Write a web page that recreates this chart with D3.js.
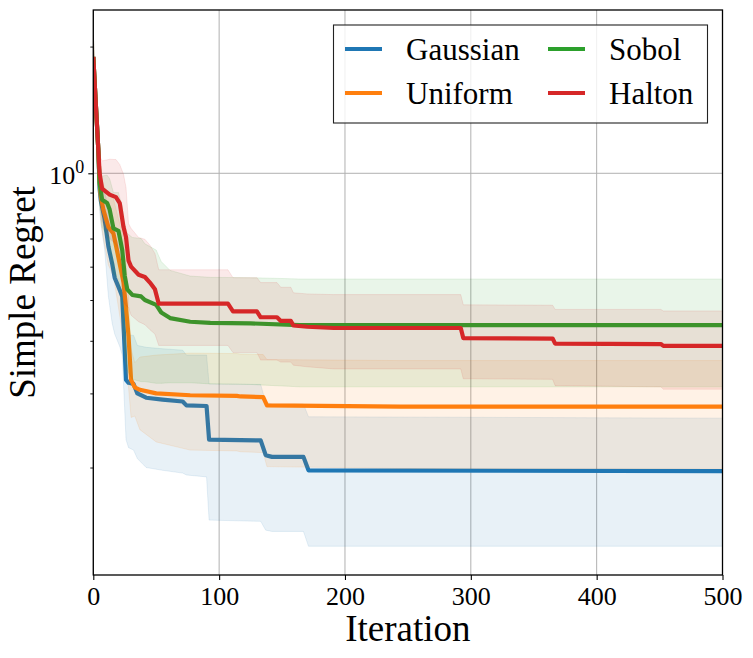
<!DOCTYPE html>
<html>
<head>
<meta charset="utf-8">
<script src="https://cdn.jsdelivr.net/npm/d3@7"></script>
<style>
  html, body { margin: 0; padding: 0; background: #fff; }
  svg text { font-family: "Liberation Serif", "DejaVu Serif", serif; fill: #000; }
</style>
</head>
<body>
<svg id="chart" width="753" height="658"></svg>
<script>
// ---------------- data ----------------
const seriesNames = ["Gaussian", "Uniform", "Sobol", "Halton"];
const seriesColors = ["#1f77b4", "#ff7f0e", "#2ca02c", "#d62728"];

const gIter = [0,1,2,3,4,5,6,9,12,15,17,21,23,26,28,32,35,42,55,71,74,90,92,133,137,142,167,171,500];
const gMean = [1.89,1.66,1.46,1.29,1.135,0.92,0.86,0.78,0.67,0.61,0.565,0.528,0.51,0.323,0.318,0.316,0.300,0.293,0.290,0.287,0.281,0.280,0.233,0.232,0.214,0.212,0.212,0.197,0.196];
const gStd  = [0.24,0.2,0.17,0.14,0.12,0.1,0.1,0.12,0.16,0.17,0.15,0.14,0.14,0.09,0.095,0.096,0.09,0.093,0.093,0.093,0.089,0.09,0.083,0.083,0.072,0.071,0.071,0.067,0.066];

const uIter = [0,1,2,3,4,5,6,8,12,16,20,24,26,28,30,33,37,50,77,114,117,135,138,244,500];
const uMean = [1.89,1.66,1.46,1.29,1.135,0.95,0.88,0.82,0.745,0.72,0.63,0.55,0.48,0.41,0.323,0.31,0.306,0.300,0.297,0.296,0.295,0.294,0.281,0.279,0.279];
const uStd  = [0.24,0.2,0.17,0.14,0.12,0.1,0.11,0.12,0.14,0.15,0.15,0.15,0.13,0.1,0.06,0.045,0.06,0.07,0.077,0.077,0.077,0.077,0.08,0.08,0.08];

const sIter = [0,1,2,3,4,5,7,11,13,16,20,21,23,25,27,31,38,41,50,54,61,77,93,125,164,500];
const sMean = [1.89,1.66,1.46,1.29,1.135,0.95,0.865,0.85,0.82,0.74,0.73,0.705,0.657,0.57,0.53,0.514,0.51,0.50,0.487,0.467,0.453,0.444,0.441,0.44,0.436,0.436];
const sStd  = [0.24,0.2,0.17,0.14,0.12,0.1,0.12,0.14,0.15,0.16,0.17,0.17,0.18,0.19,0.19,0.19,0.19,0.18,0.17,0.15,0.135,0.126,0.125,0.125,0.125,0.125];

const hIter = [0,1,2,3,4,5,7,13,18,21,24,26,28,30,36,41,45,49,52,107,111,130,133,146,149,157,159,170,191,292,294,365,367,451,453,500];
const hMean = [1.89,1.66,1.46,1.29,1.135,1.0,0.92,0.89,0.878,0.85,0.745,0.705,0.62,0.60,0.574,0.567,0.55,0.53,0.49,0.49,0.47,0.47,0.455,0.455,0.446,0.446,0.435,0.432,0.429,0.429,0.406,0.405,0.394,0.393,0.389,0.389];
const hStd  = [0.24,0.2,0.17,0.14,0.12,0.1,0.15,0.19,0.2,0.2,0.25,0.22,0.14,0.14,0.13,0.13,0.125,0.115,0.10,0.10,0.095,0.095,0.095,0.095,0.09,0.09,0.085,0.085,0.086,0.086,0.081,0.081,0.081,0.082,0.082,0.082];

const xTicks = [0, 100, 200, 300, 400, 500];
const yMajorTicks = [1];
const yMinorTicks = [0.2, 0.3, 0.4, 0.5, 0.6, 0.7, 0.8, 0.9, 2];
const xDomain = [0, 500];
const yDomain = [0.1111, 2.443];

// ---------------- layout ----------------
const FONT = "'Liberation Serif', 'DejaVu Serif', serif";
const svg = d3.select("#chart");
const L = 93.3, T = 10, R = 722.5, B = 575;

const x = d3.scaleLinear().domain(xDomain).range([L, R]);
const y = d3.scaleLog().domain(yDomain).range([B, T]);

const series = [
  { it: gIter, m: gMean, s: gStd },
  { it: uIter, m: uMean, s: uStd },
  { it: sIter, m: sMean, s: sStd },
  { it: hIter, m: hMean, s: hStd }
].map((d, k) => ({
  name: seriesNames[k], color: seriesColors[k],
  pts: d.it.map((v, i) => ({ i: v, m: d.m[i], lo: d.m[i] - d.s[i], hi: d.m[i] + d.s[i] }))
}));

svg.append("defs").append("clipPath").attr("id", "clip")
  .append("rect").attr("x", L).attr("y", T).attr("width", R - L).attr("height", B - T);

// grid
const grid = svg.append("g");
grid.selectAll("line.gx").data(xTicks).join("line")
  .attr("x1", d => x(d)).attr("x2", d => x(d)).attr("y1", T).attr("y2", B)
  .attr("stroke", "#b0b0b0").attr("stroke-width", 1);
grid.selectAll("line.gy").data(yMajorTicks).join("line")
  .attr("x1", L).attr("x2", R).attr("y1", d => y(d)).attr("y2", d => y(d))
  .attr("stroke", "#b0b0b0").attr("stroke-width", 1);

// data
const plot = svg.append("g").attr("clip-path", "url(#clip)");
const area = d3.area().x(d => x(d.i)).y0(d => y(d.lo)).y1(d => y(d.hi));
const line = d3.line().x(d => x(d.i)).y(d => y(d.m));

series.forEach(sr => {
  plot.append("path").datum(sr.pts).attr("d", area)
    .attr("fill", sr.color).attr("fill-opacity", 0.1)
    .attr("stroke", sr.color).attr("stroke-opacity", 0.1).attr("stroke-width", 1);
  plot.append("path").datum(sr.pts).attr("d", line)
    .attr("fill", "none").attr("stroke", sr.color).attr("stroke-width", 4.2)
    .attr("stroke-linejoin", "round");
});

// axes
const xAxis = d3.axisBottom(x).tickValues(xTicks).tickSize(5).tickPadding(3).tickFormat(d3.format("d"));
const gx = svg.append("g").attr("transform", `translate(0,${B})`).call(xAxis)
  .attr("font-family", FONT).attr("font-size", 26);
gx.select(".domain").remove();
gx.selectAll(".tick line").attr("stroke", "#000").attr("stroke-width", 1.1);
gx.selectAll(".tick text").attr("font-size", 26).attr("font-family", FONT)
  .attr("dy", null).attr("y", 30);

const yAxisMajor = d3.axisLeft(y).tickValues(yMajorTicks).tickSize(5).tickFormat(() => "");
const gy = svg.append("g").attr("transform", `translate(${L},0)`).call(yAxisMajor)
  .attr("font-family", FONT);
gy.select(".domain").remove();
gy.selectAll(".tick line").attr("stroke", "#000").attr("stroke-width", 1.1);
gy.selectAll(".tick").each(function() {
  const t = d3.select(this).append("text").attr("x", -9).attr("y", 10)
    .attr("text-anchor", "end").attr("font-family", FONT);
  t.append("tspan").attr("font-size", 26).text("10");
  t.append("tspan").attr("font-size", 18).attr("dy", -11).text("0");
});
const yAxisMinor = d3.axisLeft(y).tickValues(yMinorTicks).tickSize(3).tickFormat(() => "");
const gym = svg.append("g").attr("transform", `translate(${L},0)`).call(yAxisMinor);
gym.select(".domain").remove();
gym.selectAll(".tick line").attr("stroke", "#000").attr("stroke-width", 0.9);

// frame
svg.append("rect").attr("x", L).attr("y", T).attr("width", R - L).attr("height", B - T)
  .attr("fill", "none").attr("stroke", "#000").attr("stroke-width", 1.3);

// labels
svg.append("text").attr("x", (L + R) / 2).attr("y", 641).attr("text-anchor", "middle")
  .attr("font-size", 37).text("Iteration");
svg.append("text").attr("transform", `translate(35,${(T + B) / 2}) rotate(-90)`)
  .attr("text-anchor", "middle").attr("font-size", 37).text("Simple Regret");

// legend
const lg = svg.append("g");
lg.append("rect").attr("x", 333.5).attr("y", 25).attr("width", 374).attr("height", 98)
  .attr("fill", "#fff").attr("fill-opacity", 0.8).attr("stroke", "#222").attr("stroke-width", 1.1);
const legPos = [
  { lx: 345, tx: 406, ly: 49 },
  { lx: 345, tx: 406, ly: 93 },
  { lx: 548, tx: 609, ly: 49 },
  { lx: 548, tx: 609, ly: 93 }
];
series.forEach((sr, k) => {
  const p = legPos[k];
  lg.append("line").attr("x1", p.lx).attr("x2", p.lx + 37).attr("y1", p.ly).attr("y2", p.ly)
    .attr("stroke", sr.color).attr("stroke-width", 4.2);
  lg.append("text").attr("x", p.tx).attr("y", p.ly + 11).attr("font-size", 31).text(sr.name);
});
</script>
</body>
</html>
